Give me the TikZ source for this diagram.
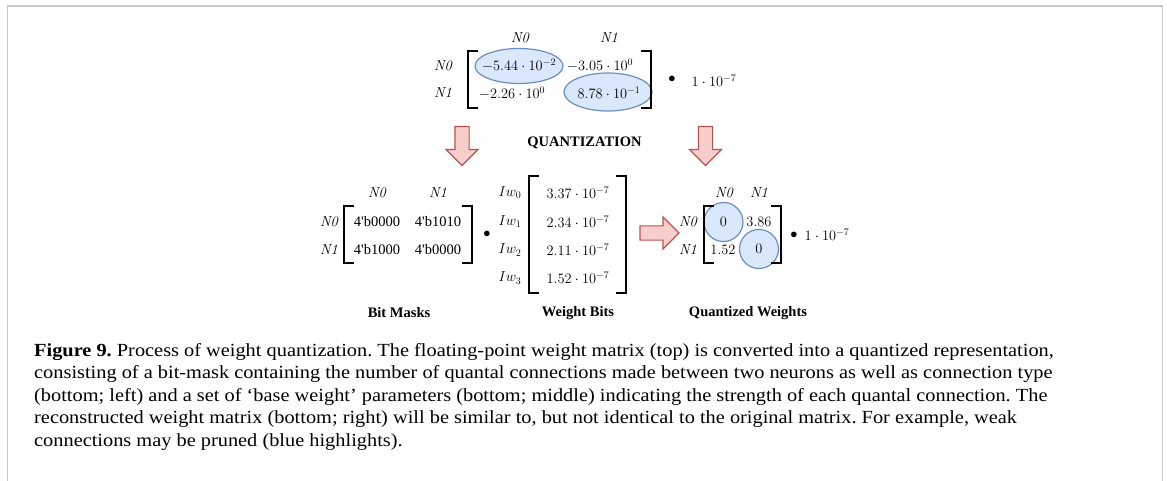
\documentclass[tikz,border=0pt]{standalone}
\usepackage{amsmath}
\usepackage{amssymb}
\usepackage{fontspec}
\newfontfamily\labfont{Liberation Serif}
\newfontfamily\capfont[Ligatures=TeX,FakeStretch=1.10]{Liberation Serif}
\usepackage{tikz}
\usetikzlibrary{shapes.geometric,shapes.arrows}
\definecolor{hlfill}{HTML}{DAE8FC}
\definecolor{hlline}{HTML}{6C8EBF}
\definecolor{qfill}{HTML}{F8CECC}
\definecolor{qline}{HTML}{B85450}
\definecolor{framegray}{HTML}{C8C8C8}

\begin{document}
\begin{tikzpicture}[x=1pt,y=-1pt,font=\fontsize{14.5}{17}\selectfont,
  hl/.style={draw=hlline, fill=hlfill, line width=1.2pt},
  qarrow/.style={single arrow, draw=qline, fill=qfill, line width=1.2pt, inner sep=6.5pt,
    minimum height=39pt, single arrow head extend=9pt},
  bracket/.style={line width=2.8pt},
  nlab/.style={font=\fontsize{14.5}{17}\selectfont\itshape},
  bits/.style={font=\fontsize{14.5}{17}\selectfont\labfont},
  title/.style={font=\fontsize{14.5}{17}\selectfont\labfont\bfseries}]
\useasboundingbox (0,0) rectangle (1167,481);
\draw[framegray, line width=1.5pt] (7.5,481) -- (7.5,6) -- (1162.5,6) -- (1162.5,481);
% floating point matrix
\node[hl, ellipse, minimum width=88, minimum height=35] (hlA) at (519,66) {};
\node[hl, ellipse, minimum width=88, minimum height=38] (hlB) at (608,92) {};
\node[nlab] (tc0) at (520,38) {N0};
\node[nlab] (tc1) at (609,38) {N1};
\node[nlab] (tr0) at (443,66) {N0};
\node[nlab] (tr1) at (443,93) {N1};
\node (w00) at (519,65) {$-5.44\cdot10^{-2}$};
\node (w01) at (600,65) {$-3.05\cdot10^{0}$};
\node (w10) at (512,93) {$-2.26\cdot10^{0}$};
\node (w11) at (609,93) {$8.78\cdot10^{-1}$};
\node (tdot) at (672,79) {$\bullet$};
\node (tscale) at (714,81) {$1\cdot10^{-7}$};
% quantization arrows
\node[qarrow, rotate=-90] (qL) at (462,142.5) {};
\node[qarrow, rotate=-90] (qR) at (705.5,142.5) {};
\node[title] (quant) at (584.5,143) {QUANTIZATION};
% bit masks
\node[nlab] (mc0) at (377,193) {N0};
\node[nlab] (mc1) at (438,193) {N1};
\node[nlab] (mr0) at (329,222) {N0};
\node[nlab] (mr1) at (329,250) {N1};
\node[bits] (m00) at (377,222) {4\textquotesingle b0000};
\node[bits] (m01) at (438,222) {4\textquotesingle b1010};
\node[bits] (m10) at (377,250) {4\textquotesingle b1000};
\node[bits] (m11) at (438,250) {4\textquotesingle b0000};
\node (mdot) at (487,234) {$\bullet$};
% weight bits
\foreach \k/\v/\yy in {0/3.37/193, 1/2.34/222, 2/2.11/250, 3/1.52/278}{
  \node (iw\k) at (510,\yy) {$Iw_{\k}$};
  \node (b\k) at (578,\yy) {$\v\cdot10^{-7}$};
}
\node[title] (bmask) at (399,313) {Bit Masks};
\node[title] (wbits) at (578,313) {Weight Bits};
% quantized weights
\node[qarrow] (qM) at (656,233) {};
\node[hl, circle, minimum size=39] (c00) at (723.5,222) {$0$};
\node[hl, circle, minimum size=39] (c11) at (759,249) {$0$};
\node[nlab] (qc0) at (724,193) {N0};
\node[nlab] (qc1) at (759,193) {N1};
\node[nlab] (qr0) at (688,222) {N0};
\node[nlab] (qr1) at (688,250) {N1};
\node (q01) at (759,222) {$3.86$};
\node (q10) at (723,250) {$1.52$};
\node (qdot) at (794,235) {$\bullet$};
\node (qscale) at (827,235) {$1\cdot10^{-7}$};
\node[title] (qweights) at (748,313) {Quantized Weights};
% brackets
\foreach \xl/\xr/\yt/\yb in {468/651/51/108, 344/472/206/263, 529/626/176/293, 704/781/206/263}{
  \draw[bracket] (\xl+10,\yt) -- (\xl,\yt) -- (\xl,\yb) -- (\xl+10,\yb);
  \draw[bracket] (\xr-10,\yt) -- (\xr,\yt) -- (\xr,\yb) -- (\xr-10,\yb);
}
% caption
\node[anchor=base west, align=left, inner sep=0, font=\capfont\fontsize{18.5}{22.5}\selectfont\frenchspacing] (cap) at (34,446)
{\textbf{Figure 9.} Process of weight quantization. The floating-point weight matrix (top) is converted into a quantized representation,\\
consisting of a bit-mask containing the number of quantal connections made between two neurons as well as connection type\\
(bottom; left) and a set of `base weight' parameters (bottom; middle) indicating the strength of each quantal connection. The\\
reconstructed weight matrix (bottom; right) will be similar to, but not identical to the original matrix. For example, weak\\
connections may be pruned (blue highlights).};
\end{tikzpicture}
\end{document}
